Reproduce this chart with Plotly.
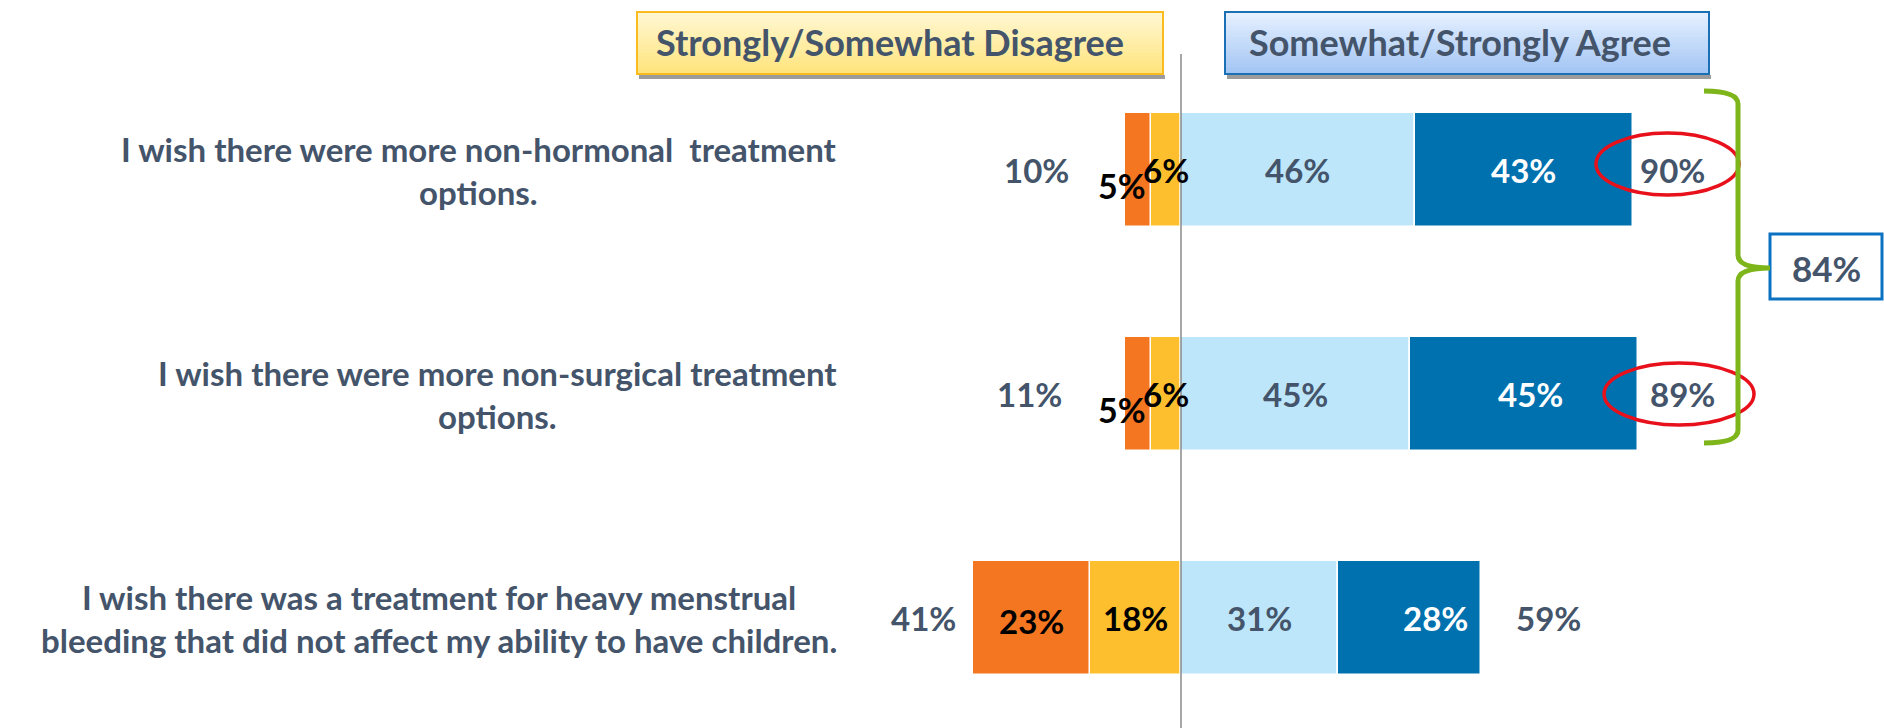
import plotly.graph_objects as go

# ---------------- data ----------------
categories = [
    "I wish there were more non-hormonal  treatment<br>options.",
    "I wish there were more non-surgical treatment<br>options.",
    "I wish there was a treatment for heavy menstrual<br>bleeding that did not affect my ability to have children.",
]
strongly_disagree = [5, 5, 23]
somewhat_disagree = [6, 6, 18]
somewhat_agree = [46, 45, 31]
strongly_agree = [43, 45, 28]
disagree_total = [10, 11, 41]
agree_total = [90, 89, 59]
combined_label = "84%"
header_left = "Strongly/Somewhat Disagree"
header_right = "Somewhat/Strongly Agree"

# ---------------- styles ----------------
W, H = 1884, 728
ZERO_PX = 1181
PX_PER_UNIT = 5.08
ROW_CENTER_PX = 170
ROW_STEP_PX = 224
C_ORANGE = "#F47621"
C_YELLOW = "#FDBF2D"
C_LIGHT = "#BDE6FB"
C_DARK = "#0071AF"
C_TEXT = "#44546A"
FONT = "Lato"
LABEL_SIZE = 33
total_left_gap_px = [89, 96, 49]
total_right_gap_px = [39, 44, 68]
small_shift = [(-16, -15), (-16, -15), (0, -3)]   # orange label shifts (x, y)
dark_shift = [0, 7, 26]

ypos = list(range(len(categories)))
x_range = [-ZERO_PX / PX_PER_UNIT, (W - ZERO_PX) / PX_PER_UNIT]
y_top = -ROW_CENTER_PX / ROW_STEP_PX
y_bot = (H - ROW_CENTER_PX) / ROW_STEP_PX

fig = go.Figure()
bar_w = 0.51
line = dict(color="white", width=1.5)
fig.add_trace(go.Bar(y=ypos, x=[-v for v in somewhat_disagree], orientation="h",
                     marker=dict(color=C_YELLOW, line=line), width=bar_w, hoverinfo="skip"))
fig.add_trace(go.Bar(y=ypos, x=[-v for v in strongly_disagree], orientation="h",
                     marker=dict(color=C_ORANGE, line=line), width=bar_w, hoverinfo="skip"))
fig.add_trace(go.Bar(y=ypos, x=somewhat_agree, orientation="h",
                     marker=dict(color=C_LIGHT, line=line), width=bar_w, hoverinfo="skip"))
fig.add_trace(go.Bar(y=ypos, x=strongly_agree, orientation="h",
                     marker=dict(color=C_DARK, line=line), width=bar_w, hoverinfo="skip"))
# invisible trace to activate pixel overlay axes
fig.add_trace(go.Scatter(x=[0, W], y=[0, H], xaxis="x2", yaxis="y2", mode="markers",
                         marker=dict(opacity=0), hoverinfo="skip", showlegend=False))

ann = []
def lab(x, y, text, color, size=LABEL_SIZE, xs=0, ys=0, xanchor="center"):
    ann.append(dict(x=x, y=y, xref="x", yref="y", text=text, showarrow=False,
                    xanchor=xanchor, yanchor="middle", xshift=xs, yshift=ys,
                    font=dict(family=FONT, size=size, color=color, weight=700)))

for i, y in enumerate(ypos):
    sd, d, a, sa = strongly_disagree[i], somewhat_disagree[i], somewhat_agree[i], strongly_agree[i]
    xs, ys = small_shift[i]
    lab(-(d + sd / 2), y, f"{sd}%", "#000000", size=(34 if i < 2 else LABEL_SIZE), xs=xs, ys=ys)
    lab(-d / 2, y, f"{d}%", "#000000")
    lab(a / 2, y, f"{a}%", C_TEXT)
    lab(a + sa / 2, y, f"{sa}%", "white", xs=dark_shift[i])
    lab(-(d + sd), y, f"{disagree_total[i]}%", C_TEXT, xs=-total_left_gap_px[i])
    lab(a + sa, y, f"{agree_total[i]}%", C_TEXT, xs=total_right_gap_px[i])
    ann.append(dict(x=839 / W, y=y, xref="paper", yref="y", text=categories[i],
                    showarrow=False, xanchor="right", yanchor="middle", align="center",
                    font=dict(family=FONT, size=33, color=C_TEXT, weight=700)))

# header texts and combined label
def ptext(xp, yp, text, size, color=C_TEXT):
    ann.append(dict(x=xp, y=yp, xref="x2", yref="y2", text=text, showarrow=False,
                    xanchor="center", yanchor="middle",
                    font=dict(family=FONT, size=size, color=color, weight=700)))
ptext(890, 42, header_left, 36)
ptext(1460, 42, header_right, 36)
ptext(1826, 268, combined_label, 35)

shapes = []
def hexrgb(h):
    h = h.lstrip("#"); return tuple(int(h[k:k + 2], 16) for k in (0, 2, 4))
def grad_box(x0, x1, y0, y1, c_top, c_bot, border):
    n = 24
    t, b = hexrgb(c_top), hexrgb(c_bot)
    for k in range(n):
        f = k / (n - 1)
        c = tuple(round(t[j] + (b[j] - t[j]) * f) for j in range(3))
        shapes.append(dict(type="rect", xref="x2", yref="y2", x0=x0, x1=x1,
                           y0=y0 + (y1 - y0) * k / n, y1=y0 + (y1 - y0) * (k + 1) / n + 0.6,
                           fillcolor="rgb(%d,%d,%d)" % c, line=dict(width=0), layer="below"))
    shapes.append(dict(type="rect", xref="x2", yref="y2", x0=x0 + 2, x1=x1 + 2, y0=y1 + 1, y1=y1 + 5,
                       fillcolor="#9c9c9c", line=dict(width=0), layer="below"))
    shapes.append(dict(type="rect", xref="x2", yref="y2", x0=x0, x1=x1, y0=y0, y1=y1,
                       fillcolor="rgba(0,0,0,0)", line=dict(color=border, width=2), layer="below"))

grad_box(637, 1163, 12, 74, "#FFF7D2", "#FFE47C", "#F9BB1E")
grad_box(1225, 1709, 12, 74, "#E6F0FF", "#A2C5F4", "#1B6FB5")

# zero line
shapes.append(dict(type="line", xref="x2", yref="y2", x0=ZERO_PX, x1=ZERO_PX, y0=54, y1=H,
                   line=dict(color="#8a8a8a", width=1.5), layer="above"))
# red ellipses
shapes.append(dict(type="circle", xref="x2", yref="y2", x0=1596, x1=1739, y0=133, y1=195,
                   line=dict(color="#E8101A", width=3.5), layer="above"))
shapes.append(dict(type="circle", xref="x2", yref="y2", x0=1604, x1=1754, y0=363, y1=425,
                   line=dict(color="#E8101A", width=3.5), layer="above"))
# brace
shapes.append(dict(type="path", xref="x2", yref="y2",
                   path="M 1704 91 Q 1738 91 1738 104 L 1738 255 Q 1738 268 1770 268 "
                        "Q 1738 268 1738 281 L 1738 430 Q 1738 443 1704 443",
                   line=dict(color="#7DB51B", width=5), layer="above"))
# combined box
shapes.append(dict(type="rect", xref="x2", yref="y2", x0=1770, x1=1882, y0=234, y1=299,
                   fillcolor="white", line=dict(color="#0B72C2", width=3), layer="below"))

fig.update_layout(
    width=W, height=H, margin=dict(l=0, r=0, t=0, b=0),
    paper_bgcolor="white", plot_bgcolor="rgba(0,0,0,0)",
    barmode="relative", showlegend=False, bargap=0,
    xaxis=dict(range=x_range, visible=False, fixedrange=True),
    yaxis=dict(range=[y_bot, y_top], visible=False, fixedrange=True),
    xaxis2=dict(range=[0, W], overlaying="x", visible=False, fixedrange=True),
    yaxis2=dict(range=[H, 0], overlaying="y", visible=False, fixedrange=True),
    annotations=ann, shapes=shapes,
)
fig.write_html("out.html", config={"displayModeBar": False},
               post_script="document.body.style.margin='0';document.body.style.overflow='hidden';")
